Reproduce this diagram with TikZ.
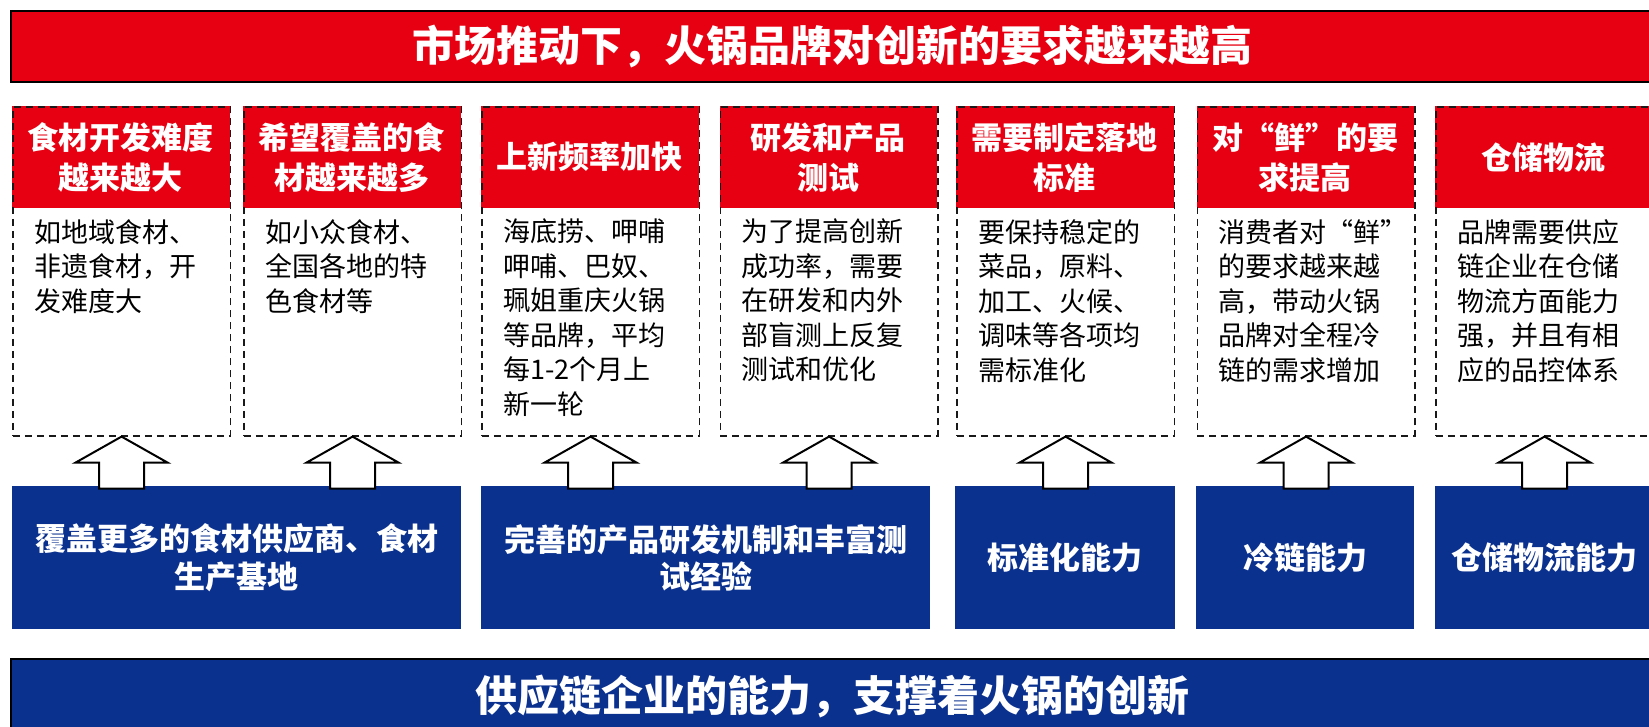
\documentclass[tikz,border=0pt]{standalone}
\usepackage{fontspec}
\newfontfamily\cjk{Noto Sans CJK SC}
\definecolor{hred}{RGB}{230,0,18}
\definecolor{hblue}{RGB}{11,49,143}
\begin{document}
\begin{tikzpicture}[x=1pt,y=-1pt,
  bar/.style={draw=black, line width=2pt, inner sep=0pt, anchor=north west, text=white,
    font=\cjk\bfseries\fontsize{42}{48}\selectfont},
  hdr/.style={fill=hred, minimum width=217.5, minimum height=102, anchor=north west,
    inner sep=0pt, text=white, align=center, font=\cjk\bfseries\fontsize{31}{40}\selectfont},
  colbox/.style={draw=black!90, line width=1.6pt, dash pattern=on 7pt off 5pt,
    minimum width=217.5, minimum height=329, anchor=north west, inner sep=0pt},
  body/.style={anchor=north west, inner sep=0pt, align=left, text=black,
    font=\cjk\fontsize{27}{34.5}\selectfont},
  capbox/.style={fill=hblue, minimum height=143, anchor=north west, inner sep=0pt,
    text=white, align=center, font=\cjk\bfseries\fontsize{31}{37.5}\selectfont},
  uparrow/.style={draw=black, fill=white, line width=2pt, line join=miter}
]
\useasboundingbox (0,0) rectangle (1649,727);
\clip (0,0) rectangle (1649,727);
\fill[white] (0,0) rectangle (1649,727);

% top and bottom bars
\node[bar, fill=hred, minimum width=1642, minimum height=71] (title) at (10,10)
  {市场推动下，火锅品牌对创新的要求越来越高};
\node[bar, fill=hblue, minimum width=1642, minimum height=76] (foot) at (10,658)
  {供应链企业的能力，支撑着火锅的创新};

% red headers
\node[hdr] (h1) at (12,106) {食材开发难度\\越来越大};
\node[hdr] (h2) at (243,106) {希望覆盖的食\\材越来越多};
\node[hdr] (h3) at (481,106) {上新频率加快};
\node[hdr] (h4) at (719.5,106) {研发和产品\\测试};
\node[hdr] (h5) at (956,106) {需要制定落地\\标准};
\node[hdr] (h6) at (1196.5,106) {对“鲜”的要\\求提高};
\node[hdr] (h7) at (1435,106) {仓储物流};

% dashed column frames
\node[colbox] (c1) at (12,106) {};
\node[colbox] (c2) at (243,106) {};
\node[colbox] (c3) at (481,106) {};
\node[colbox] (c4) at (719.5,106) {};
\node[colbox] (c5) at (956,106) {};
\node[colbox] (c6) at (1196.5,106) {};
\node[colbox] (c7) at (1435,106) {};

% body texts
\node[body] (t1) at (34,219) {如地域食材、\\非遗食材，开\\发难度大};
\node[body] (t2) at (265,219) {如小众食材、\\全国各地的特\\色食材等};
\node[body] (t3) at (503,219) {海底捞、呷哺\\呷哺、巴奴、\\珮姐重庆火锅\\等品牌，平均\\每1-2个月上\\新一轮};
\node[body] (t4) at (741.5,219) {为了提高创新\\成功率，需要\\在研发和内外\\部盲测上反复\\测试和优化};
\node[body] (t5) at (978,219) {要保持稳定的\\菜品，原料、\\加工、火候、\\调味等各项均\\需标准化};
\node[body] (t6) at (1218.5,219) {消费者对“鲜”\\的要求越来越\\高，带动火锅\\品牌对全程冷\\链的需求增加};
\node[body] (t7) at (1457,219) {品牌需要供应\\链企业在仓储\\物流方面能力\\强，并且有相\\应的品控体系};

% blue capability boxes
\node[capbox, minimum width=449] (b1) at (12,486) {覆盖更多的食材供应商、食材\\生产基地};
\node[capbox, minimum width=449] (b2) at (481,486) {完善的产品研发机制和丰富测\\试经验};
\node[capbox, minimum width=220] (b3) at (955,486) {标准化能力};
\node[capbox, minimum width=218] (b4) at (1196,486) {冷链能力};
\node[capbox, minimum width=218] (b5) at (1435,486) {仓储物流能力};

% block arrows from capabilities up to the columns
\foreach \i in {1,...,7}{
  \draw[uparrow] (c\i.south) -- ++(46,26) -- ++(-23.5,0) -- ++(0,26) -- ++(-45,0)
    -- ++(0,-26) -- ++(-23.5,0) -- cycle;
}
\end{tikzpicture}
\end{document}
